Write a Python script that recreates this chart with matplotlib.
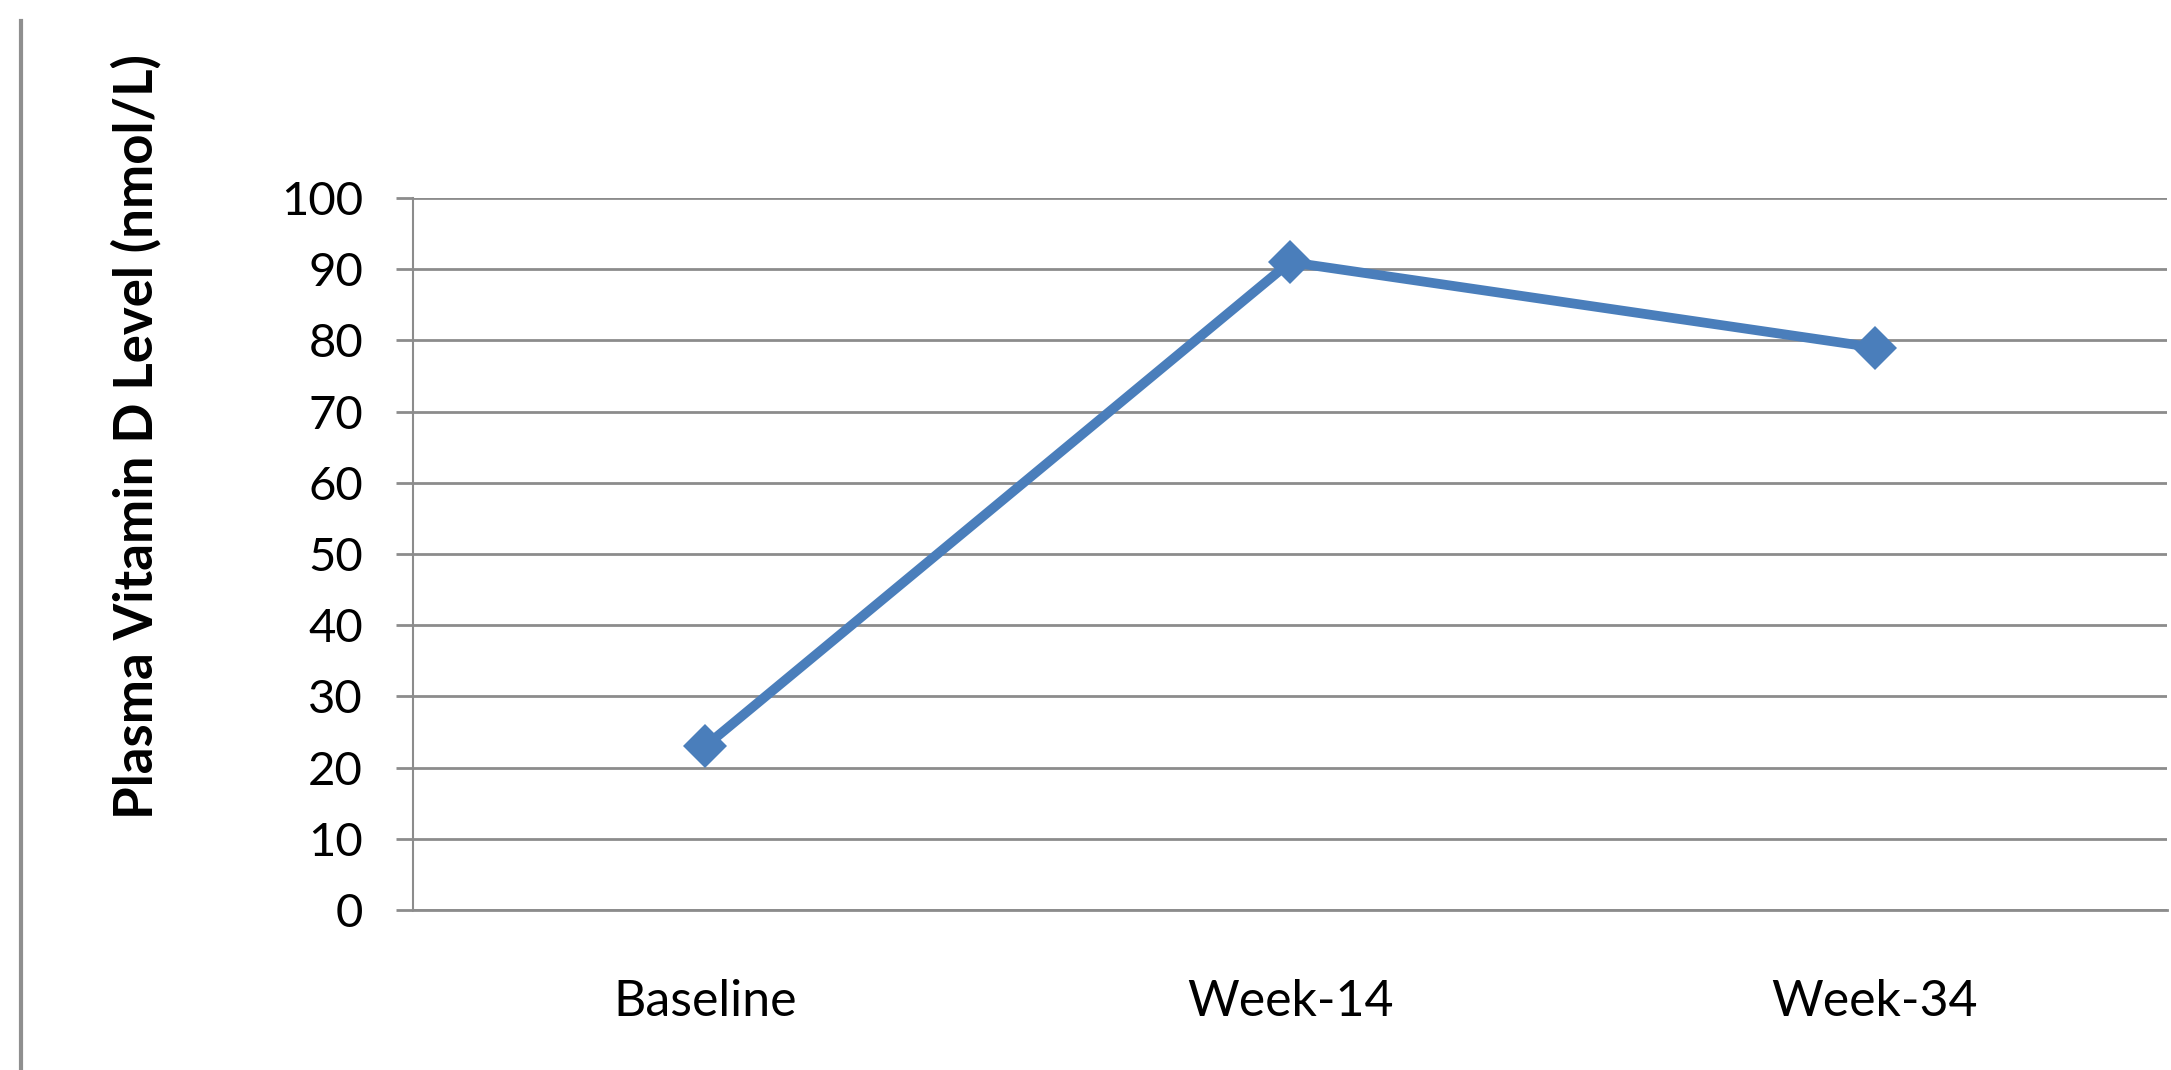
import matplotlib.pyplot as plt
from matplotlib.lines import Line2D

# Plasma vitamin D over follow-up
timepoints = ['Baseline', 'Week-14', 'Week-34']
vit_d_nmol = [23, 91, 79]
y_ticks = [0, 10, 20, 30, 40, 50, 60, 70, 80, 90, 100]

line_color = '#4A7EBB'
grid_color = '#8C8C8C'

plt.rcParams['font.family'] = ['Lato', 'DejaVu Sans']

fig = plt.figure(figsize=(21.71, 10.70), dpi=100)
ax = fig.add_axes([413 / 2171, 1 - 910 / 1070, (2167 - 413) / 2171, (910 - 198) / 1070])

x = list(range(len(timepoints)))
ax.plot(x, vit_d_nmol, color=line_color, linewidth=7, marker='D',
        markersize=22, markeredgewidth=0, solid_joinstyle='miter', zorder=3)

ax.set_xlim(-0.5, len(timepoints) - 0.5)
ax.set_ylim(0, 100)
ax.set_yticks(y_ticks)
ax.set_xticks(x)
ax.set_xticklabels(timepoints)

ax.yaxis.grid(True, color=grid_color, linewidth=2)
ax.set_axisbelow(True)

for side in ['top', 'right']:
    ax.spines[side].set_visible(False)
ax.spines['left'].set_color(grid_color)
ax.spines['left'].set_linewidth(1.5)
ax.spines['bottom'].set_color(grid_color)
ax.spines['bottom'].set_linewidth(2)

ax.tick_params(axis='y', length=12, width=2, color=grid_color, labelsize=34, pad=24)
ax.tick_params(axis='x', length=0, labelsize=36, pad=50)

ax.set_ylabel('Plasma Vitamin D Level (nmol/L)', fontsize=38, fontweight='bold', labelpad=86)
# the axis title sits above the middle of the axis
ax.yaxis.label.set_y(0.665)

# thin vertical rule at the left edge of the frame
fig.add_artist(Line2D([21 / 2171, 21 / 2171], [0, 1 - 21 / 1070],
                      transform=fig.transFigure, color='#8F8F8F', linewidth=3))

fig.savefig('out.png', dpi=100)
